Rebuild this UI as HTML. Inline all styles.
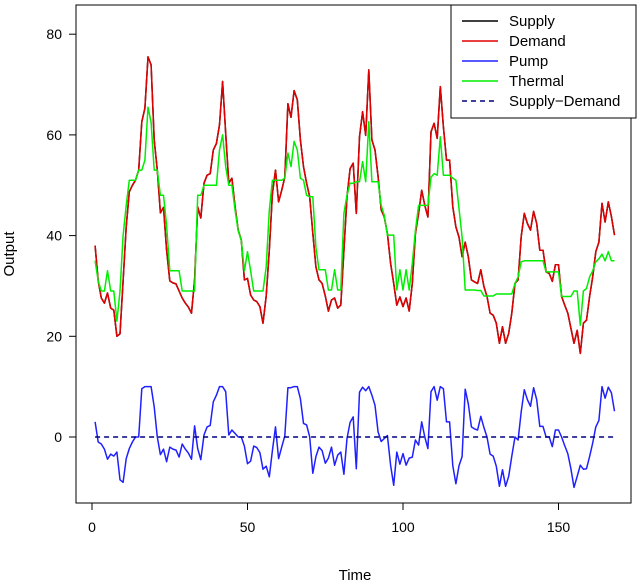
<!DOCTYPE html>
<html><head><meta charset="utf-8"><style>
body{margin:0;background:#fff;}
svg{display:block;font-family:"Liberation Sans",sans-serif;}
</style></head><body>
<svg id="chart" width="640" height="583" viewBox="0 0 640 583">
<rect x="76" y="5" width="555" height="498" fill="none" stroke="#000" stroke-width="1"/>
<g id="axes"></g>
<g id="series"></g>
<text x="355" y="580" font-size="15" text-anchor="middle">Time</text>
<text x="14" y="254" font-size="15" text-anchor="middle" transform="rotate(-90 14 254)">Output</text>
<g>
<rect x="451" y="5" width="185" height="113" fill="#fff" stroke="#000"/>
<line x1="462" y1="21" x2="498" y2="21" stroke="#000" stroke-width="1.5"/>
<text x="509" y="26" font-size="15">Supply</text>
<line x1="462" y1="41" x2="498" y2="41" stroke="#e00000" stroke-width="1.5"/>
<text x="509" y="46" font-size="15">Demand</text>
<line x1="462" y1="61" x2="498" y2="61" stroke="#2020ff" stroke-width="1.5"/>
<text x="509" y="66" font-size="15">Pump</text>
<line x1="462" y1="81" x2="498" y2="81" stroke="#00ee00" stroke-width="1.5"/>
<text x="509" y="86" font-size="15">Thermal</text>
<line x1="462" y1="101" x2="498" y2="101" stroke="#000080" stroke-width="1.5" stroke-dasharray="5,4"/>
<text x="509" y="106" font-size="15">Supply−Demand</text>
</g>
</svg>
<script>
const xTicks=[0,50,100,150];
const yTicks=[0,20,40,60,80];
const demand=[38,31,27.6,26.6,28.6,25.6,25.2,20,20.5,31,41.7,48.7,50,51,53,62.6,65.3,75.5,73.9,59,53,44.5,45.6,37.1,31,30.6,30.4,29,27.6,26.6,25.8,24.6,31.2,45.7,43.5,50.4,52,52.3,57,58.3,62,70.6,60.3,50.4,51.4,45.7,41.1,39.1,31.2,31.5,28.2,27.2,26.9,25.9,22.6,28,37.1,48.3,53,46.7,49,51.6,66.2,63.5,68.8,67,59,53.7,50.4,47.7,40.5,33.8,31.2,30.5,28,25,27.2,27.6,25.6,26.2,37,47.7,53.3,54.4,44.4,59.6,64.6,59.9,72.9,59,57,51.7,45.1,43.7,40.4,34.5,30.5,26.2,27.8,25.9,27.6,25,30.5,40.4,44.4,49,46,43.7,60.6,62.3,59.3,69.6,61.6,55,55,45.7,41.7,39.7,35.8,38.7,35.8,31.2,30.8,30.5,33.2,29.9,27.9,24.6,24.2,22.6,18.6,21.9,18.6,20.6,24.6,30.5,31.2,39.8,44.4,42.4,41.1,44.8,42.4,37.1,37.1,32.8,32.5,30.9,34.2,34.2,27.9,26.2,24.6,21.6,18.6,21.2,16.6,22.6,23.2,27.9,31.8,36.8,38.7,46.4,42.7,46.7,43.8,40.1];
const supply=demand.slice();
const thermal=[35,31,29,29,33,29,29,23,29,40,46,51,51,51,53,53,55,65.5,62.5,53,53,48,48,42,33,33,33,33,29,29,29,29,29,48,48,50,50,50,50,50,57,60,53.7,50,50,45,41,39,33,36.8,33,29,29,29,29,33.8,45,51,51,51,51,51.4,56.4,53.7,58.7,57,51.4,51,48,47.7,47.7,37.7,33.2,33.2,33.2,29.2,29.2,33.2,29.2,29.2,44.4,48,50.4,50.4,50.7,50.7,54.7,50.7,62.6,50.7,50.7,50.7,46,44,40.1,40.1,40.1,29.2,33.2,29.2,33.2,29.2,34.5,41,46,46,46,46,51.6,52.3,52,59.6,52,52,52,51.4,51,45.4,39.7,29.2,29.2,29.2,29.2,29.1,29.1,28,28,28,28,28.4,28.4,28.4,28.4,28.4,28.4,30.5,31.8,34.8,35,35,35,35,35,35,35,32.8,32.8,32.8,32.8,32.8,27.9,27.9,27.9,27.9,29,29,22.2,29,29.5,31.8,33,34.8,35.4,36.3,35,36.8,35,35];
const pump=[3,-1,-1.4,-2.4,-4.4,-3.4,-3.8,-3,-8.5,-9,-4.3,-2.3,-1,0,0,9.6,10,10,10,6,0,-3.5,-2.4,-4.9,-2,-2.4,-2.6,-4,-1.4,-2.4,-3.2,-4.4,2.2,-2.3,-4.5,0.4,2,2.3,7,8.3,10,10,9,0.4,1.4,0.7,0,0,-1.8,-5.3,-4.8,-1.8,-2.1,-3.1,-6.4,-5.8,-7.9,-2.7,2,-4.3,-2,0.2,9.8,9.8,10,10,7.6,2.7,2.4,0,-7.2,-3.9,-2,-2.7,-5.2,-4.2,-2,-5.6,-3.6,-3,-7.4,-0.3,2.9,4,-6.3,8.9,9.9,9.2,10,8.3,6.3,1,-0.9,-0.3,0.3,-5.6,-9.6,-3,-5.4,-3.3,-5.6,-4.2,-4,-0.6,-1.6,3,0,-2.3,9,10,7.3,10,9.6,3,3,-5.7,-9.3,-5.7,-3.9,9.5,6.6,2,1.6,1.4,4.1,1.9,0,-3.4,-3.8,-5.8,-9.8,-6.5,-9.8,-7.8,-3.8,0,-0.6,5,9.4,7.4,6.1,9.8,7.4,2.1,2.1,0,0,-1.9,1.4,1.4,0,-1.7,-3.3,-6.3,-10,-7.8,-5.6,-6.4,-6.3,-3.9,-1.2,2,3.3,10,7.7,9.9,8.8,5.1];
const supplyMinusDemand=supply.map((s,i)=>s-demand[i]);

const NS="http://www.w3.org/2000/svg";
function xs(t){return 92+3.11*t;}
function ys(v){return 437-5.035*v;}
const axes=document.getElementById('axes');
const ser=document.getElementById('series');
function mk(tag,attrs,parent){const e=document.createElementNS(NS,tag);for(const k in attrs)e.setAttribute(k,attrs[k]);parent.appendChild(e);return e;}
mk('line',{x1:xs(xTicks[0]),x2:xs(xTicks[xTicks.length-1]),y1:503,y2:503,stroke:'#000'},axes);
xTicks.forEach(t=>{
  const l=mk('line',{x1:xs(t),x2:xs(t),y1:503,y2:510,stroke:'#000'},axes);
  
  
  const tx=mk('text',{x:xs(t),y:532,'font-size':14,'text-anchor':'middle'},axes);
  tx.textContent=t;
  
  
});
mk('line',{x1:76,x2:76,y1:ys(yTicks[0]),y2:ys(yTicks[yTicks.length-1]),stroke:'#000'},axes);
yTicks.forEach(v=>{
  const l=mk('line',{x1:69,x2:76,y1:ys(v),y2:ys(v),stroke:'#000'},axes);
  
  
  const tx=mk('text',{x:62,y:ys(v)+5,'font-size':14,'text-anchor':'end'},axes);
  tx.textContent=v;
  
  
});
function line(arr,color,name,dash){
  const d=arr.map((v,i)=>(i?'L':'M')+xs(i+1).toFixed(1)+','+ys(v).toFixed(1)).join('');
  const p=mk('path',{d:d,fill:'none',stroke:color,'stroke-width':1.5,'stroke-linejoin':'round'},ser);
  if(dash)p.setAttribute('stroke-dasharray',dash);
  
  
}
line(supply,'#000','supply-line');
line(demand,'#e00000','demand-line');
line(pump,'#2020ff','pump-line');
line(thermal,'#00ee00','thermal-line');
line(supplyMinusDemand,'#000080','supply-demand-line','5,4');
</script>
</body></html>
